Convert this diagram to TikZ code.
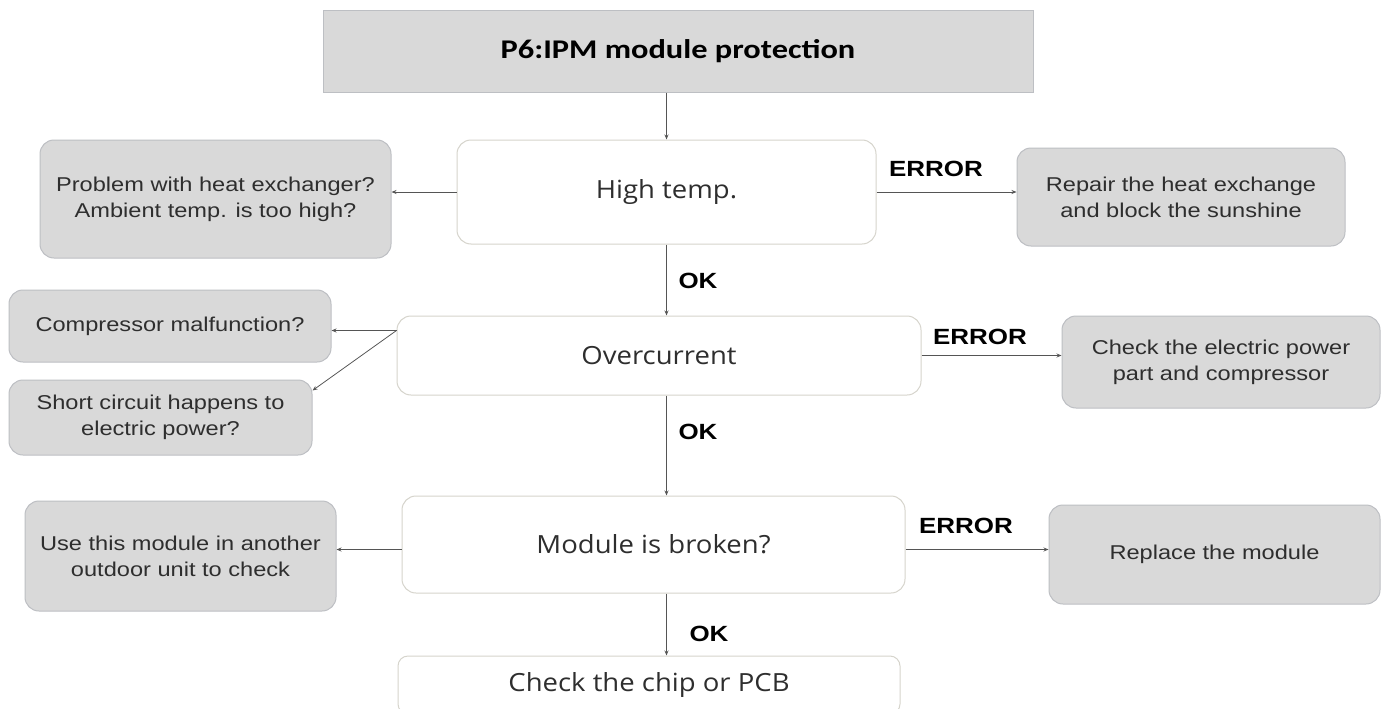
\documentclass[tikz,border=0pt]{standalone}
\usepackage{fontspec}
\setmainfont{Liberation Sans}
\newfontfamily\bxf[FakeStretch=1.18]{Liberation Sans}
\newfontfamily\mnf[FakeStretch=1.1]{Open Sans}
\newfontfamily\ttlf[FakeStretch=1.2]{Carlito}
\usetikzlibrary{arrows.meta}
\definecolor{boxgray}{HTML}{D9D9D9}
\definecolor{boxline}{HTML}{BDBFC3}
\definecolor{wline}{HTML}{D6D4CC}
\definecolor{txt}{HTML}{2E2E2E}
\definecolor{arrc}{HTML}{555555}
\tikzset{
  graybox/.style={draw=boxline, line width=1pt, fill=boxgray, rounded corners=14pt, align=center, text=txt, font=\bxf\fontsize{20}{26}\selectfont, inner sep=0pt},
  whitebox/.style={draw=wline, line width=1pt, fill=white, rounded corners=14pt, align=center, text=txt, font=\mnf\fontsize{25}{30}\selectfont, inner sep=0pt},
  titlebox/.style={draw=boxline, line width=1pt, fill=boxgray, align=center, text=black, font=\ttlf\bfseries\fontsize{27}{32}\selectfont, inner sep=0pt},
  lbl/.style={font=\bxf\bfseries\fontsize{22}{26}\selectfont, text=black, inner sep=0pt},
  arr/.style={draw=arrc, line width=0.8pt, -{Stealth[length=5pt,width=4pt]}}
}
\begin{document}
\begin{tikzpicture}[x=1pt,y=-1pt]
\useasboundingbox[fill=white] (0,0) rectangle (1386,709);
% title
\node[titlebox, minimum width=710pt, minimum height=81pt] (title) at (678,51.5) {P6:IPM module protection};
% high temp row
\node[whitebox, minimum width=419pt, minimum height=104pt] (ht) at (666.5,192) {High temp.};
\node[graybox, minimum width=351pt, minimum height=118pt] (l1) at (215.5,199) {Problem with heat exchanger?\\Ambient temp. is too high?};
\node[graybox, minimum width=328pt, minimum height=98pt] (r1) at (1181,197) {Repair the heat exchange\\and block the sunshine};
% overcurrent row
\node[whitebox, minimum width=524pt, minimum height=79pt] (oc) at (659,355.5) {Overcurrent};
\node[graybox, minimum width=322pt, minimum height=72pt] (c1) at (170,326) {Compressor malfunction?};
\node[graybox, minimum width=303pt, minimum height=75pt] (c2) at (160.5,417.5) {Short circuit happens to\\electric power?};
\node[graybox, minimum width=318pt, minimum height=92pt] (r2) at (1221,362) {Check the electric power\\part and compressor};
% module row
\node[whitebox, minimum width=503pt, minimum height=97pt] (mb) at (653.5,544.5) {Module is broken?};
\node[graybox, minimum width=311pt, minimum height=110pt] (l3) at (180.5,556) {Use this module in another\\outdoor unit to check};
\node[graybox, minimum width=331pt, minimum height=99pt] (r3) at (1214.5,554.5) {Replace the module};
% last
\node[whitebox, minimum width=502pt, minimum height=58pt, rounded corners=10pt] (ch) at (649,685) {Check the chip or PCB};
% labels
\node[lbl] (e1) at (936,169) {ERROR};
\node[lbl] (e2) at (980,337) {ERROR};
\node[lbl] (e3) at (966,526) {ERROR};
\node[lbl] (k1) at (698,281) {OK};
\node[lbl] (k2) at (698,432) {OK};
\node[lbl] (k3) at (709,634) {OK};
% connectors
\draw[arr] (ht.north |- title.south) -- (ht.north);
\draw[arr] (ht.west) -- (ht.west -| l1.east);
\draw[arr] (ht.east) -- (ht.east -| r1.west);
\draw[arr] (ht.south) -- (ht.south |- oc.north);
\coordinate (ocs) at ([yshift=-15pt]oc.north west);
\draw[arr] (ocs) -- (ocs -| c1.east);
\draw[arr] (ocs) -- ([yshift=-11pt]c2.north east);
\draw[arr] (oc.east) -- (oc.east -| r2.west);
\draw[arr] (ht.south |- oc.south) -- (ht.south |- mb.north);
\coordinate (mbw) at ([yshift=-5pt]mb.west);
\draw[arr] (mbw) -- (mbw -| l3.east);
\coordinate (mbe) at ([yshift=-5pt]mb.east);
\draw[arr] (mbe) -- (mbe -| r3.west);
\draw[arr] (ht.south |- mb.south) -- (ht.south |- ch.north);
\end{tikzpicture}
\end{document}
